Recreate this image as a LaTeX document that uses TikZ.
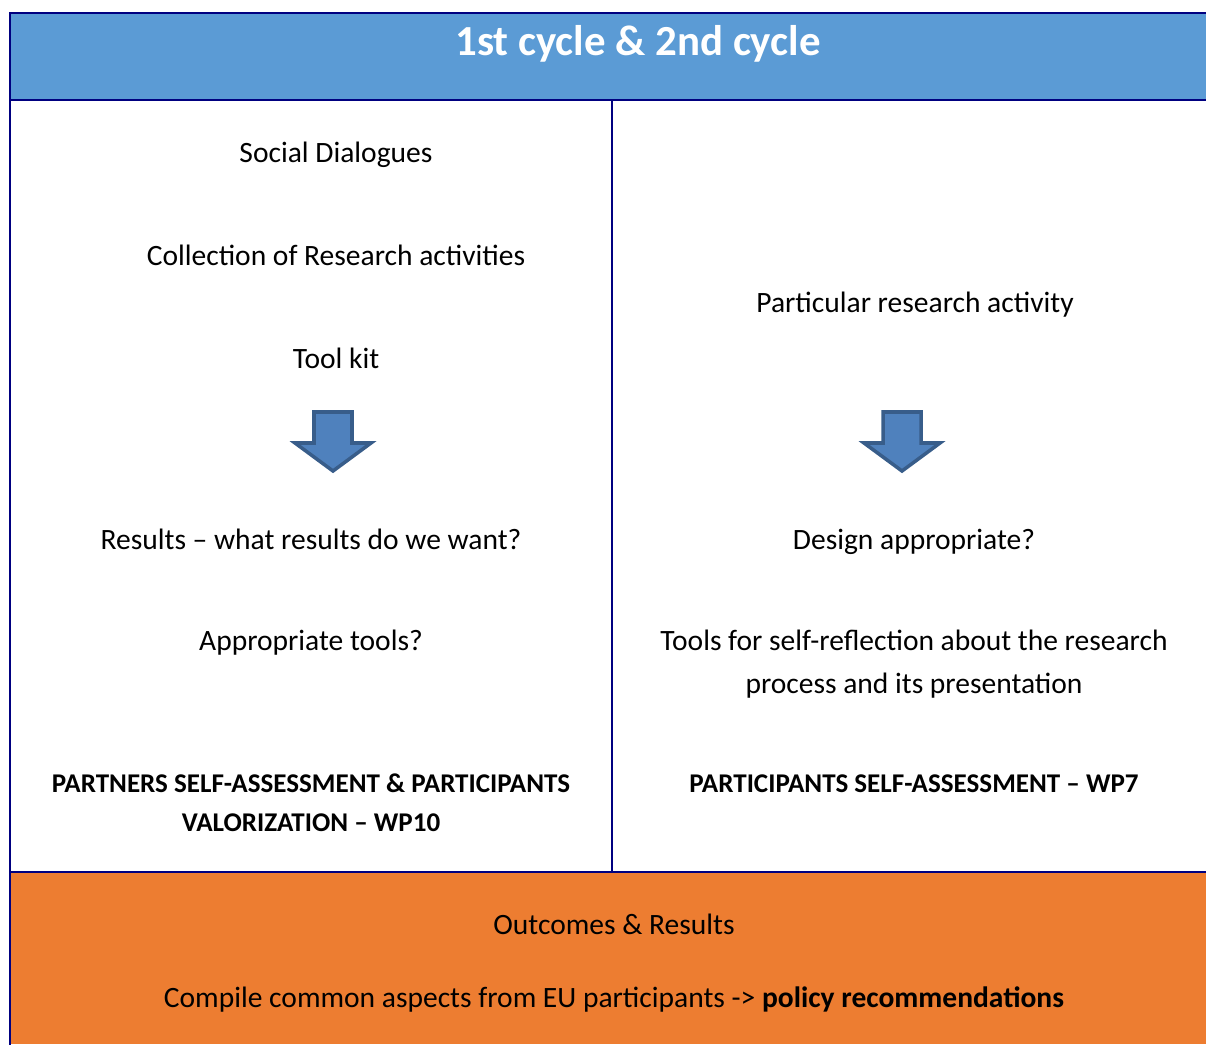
\documentclass[tikz,border=0pt]{standalone}
\usepackage{fontspec}
\setmainfont{Carlito}
\usetikzlibrary{positioning,calc}
\definecolor{hdrblue}{HTML}{5B9BD5}
\definecolor{outorange}{HTML}{ED7D31}
\definecolor{rulenavy}{HTML}{000080}
\definecolor{arrfill}{HTML}{4F81BD}
\definecolor{arrline}{HTML}{385D8A}
\tikzset{cell/.style={align=center, inner sep=0pt, font=\fontsize{16.8}{24.5}\selectfont}}
\tikzset{bcell/.style={cell, font=\fontsize{15.4}{22.2}\selectfont\bfseries}}
\tikzset{rules/.style={draw=rulenavy, line width=1.1pt, line cap=rect}}
\tikzset{blockarr/.style={fill=arrfill, draw=arrline, line width=2pt, line join=miter}}

\begin{document}
\begin{tikzpicture}[x=0.02cm, y=-0.02cm]
		\useasboundingbox (0,0) rectangle (1206,1044);

		% backgrounds
		\fill[hdrblue] (10,13) rectangle (1206,100);
		\fill[outorange] (10,872) rectangle (1206,1044);

		% table rules
		\draw[rules] (1206,13) -- (10,13) -- (10,1044);
		\draw[rules] (10,100) -- (1206,100);
		\draw[rules] (10,872) -- (1206,872);
		\draw[rules] (612,100) -- (612,872);

		\node[cell, font=\fontsize{24.4}{28}\selectfont\bfseries, text=white] (hdr) at (638,44){1st cycle \& 2nd cycle};

		% left column
		\node[cell] (social) at (336,155){Social Dialogues};
		\node[cell] (collect) at (336,255){Collection of Research activities};
		\node[cell] (toolkit) at (336,358){Tool kit};
		\coordinate (arrL) at (333,412);
		\node[cell] (results) at (311,539){Results -- what results do we want?};
		\node[cell] (apptools) at (311,643){Appropriate tools?};
		\node[bcell] (partners) at (311,803){PARTNERS SELF-ASSESSMENT \& PARTICIPANTS\\VALORIZATION -- WP10};

		% right column
		\node[cell] (particular) at (915,305){Particular research activity};
		\coordinate (arrR) at (902,412);
		\node[cell] (design) at (914,542){Design appropriate?};
		\node[cell] (selfrefl) at (914,664){Tools for self-reflection about the research\\process and its presentation};
		\node[bcell] (particip) at (914,784){PARTICIPANTS SELF-ASSESSMENT -- WP7};

		% block arrows
		\foreach \a in {arrL,arrR}{
			\draw[blockarr] ($(\a)+(-19,0)$) -- ($(\a)+(19,0)$) -- ($(\a)+(19,31)$) -- ($(\a)+(38,31)$)
				-- ($(\a)+(0,59)$) -- ($(\a)+(-38,31)$) -- ($(\a)+(-19,31)$) -- cycle;
		}

		% outcomes
		\node[cell] (outcomes) at (614,924){Outcomes \& Results};
		\node[cell] (compile) at (614,999){Compile common aspects from EU participants -> \textbf{policy recommendations}};
	\end{tikzpicture}
\end{document}
